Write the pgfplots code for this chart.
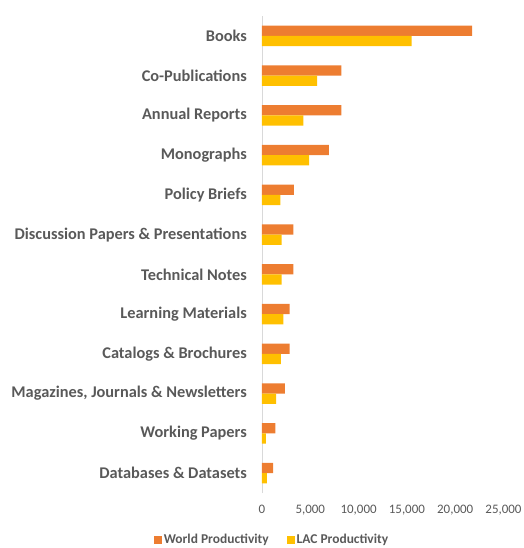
\documentclass[border=0pt]{standalone}
\usepackage{pgfplots}
\pgfplotsset{compat=1.18}
\usepackage{fontspec}
\setmainfont{Carlito}
\definecolor{worldc}{HTML}{ED7D31}
\definecolor{lacc}{HTML}{FFC000}
\definecolor{txt}{HTML}{595959}
\definecolor{axl}{HTML}{D9D9D9}

\begin{document}
\begin{tikzpicture}
\path[use as bounding box] (-262bp,-55bp) rectangle (262bp,493bp);
\begin{axis}[
    at={(0,0)}, anchor=south west,
    scale only axis,
    width=241.5bp, height=477bp,
    xbar,
    bar width=10.3bp,
    xmin=0, xmax=25000,
    ymin=-0.5, ymax=11.5,
    axis lines*=left,
    x axis line style={draw=none},
    y axis line style={draw=axl, line width=0.8pt},
    major tick length=0pt,
    xtick={0,5000,10000,15000,20000,25000},
    scaled x ticks=false,
    /pgf/number format/assume math mode=true,
    xticklabel={\pgfmathprintnumber[1000 sep={,}]{\tick}},
    xticklabel style={font=\fontsize{13}{15}\selectfont, text=txt, inner sep=0pt, anchor=north, yshift=-12bp},
    ytick={0,...,11},
    yticklabels={Databases \& Datasets, Working Papers, {Magazines, Journals \& Newsletters}, Catalogs \& Brochures, Learning Materials, Technical Notes, Discussion Papers \& Presentations, Policy Briefs, Monographs, Annual Reports, Co-Publications, Books},
    yticklabel style={font=\fontsize{16.4}{18}\selectfont\bfseries, text=txt, inner sep=0pt, anchor=east, xshift=-15bp},
    legend columns=2,
    legend style={at={(10bp,-47bp)}, anchor=center, draw=none, fill=none,
        font=\fontsize{13.5}{15}\selectfont\bfseries, text=txt,
        /tikz/every even column/.append style={column sep=16bp},
        inner sep=0pt},
    legend image code/.code={\fill[#1,draw=none] (0bp,-4bp) rectangle (8bp,4bp);},
]
\addplot[fill=worldc, draw=none, bar shift=5.15bp] coordinates {
    (1140,0) (1380,1) (2380,2) (2860,3) (2860,4) (3250,5)
    (3250,6) (3310,7) (6930,8) (8210,9) (8210,10) (21750,11)
};
\addlegendentry{World Productivity}
\addplot[fill=lacc, draw=none, bar shift=-5.15bp] coordinates {
    (510,0) (410,1) (1450,2) (1960,3) (2210,4) (2040,5)
    (2040,6) (1900,7) (4870,8) (4290,9) (5700,10) (15500,11)
};
\addlegendentry{LAC Productivity}
\end{axis}
\end{tikzpicture}
\end{document}
